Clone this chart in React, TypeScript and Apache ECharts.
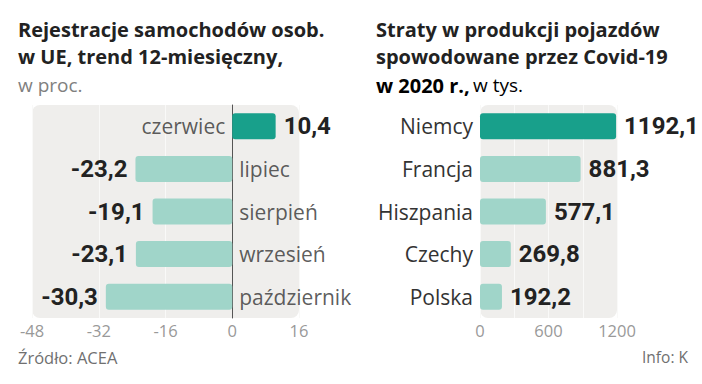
import React, { useEffect, useRef } from "react";
import * as echarts from "echarts";

const monthCats = ["czerwiec", "lipiec", "sierpień", "wrzesień", "październik"];
const monthValues = [10.4, -23.2, -19.1, -23.1, -30.3];
const countryCats = ["Niemcy", "Francja", "Hiszpania", "Czechy", "Polska"];
const countryValues = [1192.1, 881.3, 577.1, 269.8, 192.2];

const leftMin = -48;
const leftMax = 16;
const leftInterval = 16;
const rightMin = 0;
const rightMax = 1200;
const rightInterval = 300;
const rightLabelStep = 600;

const DARK = "#18a08b";
const LIGHT = "#a0d5c9";
const BG = "#efeeec";
const GRIDLINE = "#f9f9f8";
const TEXT_FONT = "'Open Sans', 'DejaVu Sans', sans-serif";
const NUM_FONT = "Roboto, 'DejaVu Sans', sans-serif";

const LG = { left: 32, top: 105, width: 267, height: 213 };
const RG = { left: 480, top: 105, width: 137, height: 213 };

const fmt = (v: number) => v.toFixed(1).replace(".", ",");

export default function App() {
  const ref = useRef<HTMLDivElement>(null);
  useEffect(() => {
    document.body.style.margin = "0";
    const chart = echarts.init(ref.current!, undefined, { renderer: "svg" });
    const valueLabel = {
      show: true,
      fontFamily: NUM_FONT,
      fontSize: 24,
      fontWeight: "bold" as const,
      color: "#222",
      distance: 8,
      formatter: (p: any) => fmt(p.value),
    };
    const tickLabel = {
      color: "#999",
      fontSize: 16.5,
      margin: 4,
      fontFamily: TEXT_FONT,
    };
    chart.setOption({
      animation: false,
      backgroundColor: "#ffffff",
      textStyle: { fontFamily: TEXT_FONT },
      grid: [
        { ...LG, containLabel: false },
        { ...RG, containLabel: false },
      ],
      xAxis: [
        {
          gridIndex: 0,
          type: "value",
          min: leftMin,
          max: leftMax,
          interval: leftInterval,
          axisLine: { show: false },
          axisTick: { show: false },
          splitLine: { show: true, lineStyle: { color: GRIDLINE, width: 1 } },
          axisLabel: tickLabel,
        },
        {
          gridIndex: 1,
          type: "value",
          min: rightMin,
          max: rightMax,
          interval: rightInterval,
          axisLine: { show: false },
          axisTick: { show: false },
          splitLine: { show: true, lineStyle: { color: GRIDLINE, width: 1 } },
          axisLabel: {
            ...tickLabel,
            formatter: (v: number) => (v % rightLabelStep === 0 ? String(v) : ""),
          },
        },
      ],
      yAxis: [
        {
          gridIndex: 0,
          type: "category",
          data: monthCats,
          inverse: true,
          axisLine: { show: true, onZero: true, lineStyle: { color: "#555", width: 1 } },
          axisTick: { show: false },
          axisLabel: { show: false },
          splitLine: { show: false },
        },
        {
          gridIndex: 1,
          type: "category",
          data: countryCats,
          inverse: true,
          axisLine: { show: false },
          axisTick: { show: false },
          axisLabel: { color: "#333", fontSize: 21, margin: 7, fontFamily: TEXT_FONT },
          splitLine: { show: false },
        },
      ],
      graphic: [
        {
          type: "rect",
          z: -10,
          silent: true,
          shape: { x: LG.left, y: LG.top, width: LG.width, height: LG.height, r: 8 },
          style: { fill: BG },
        },
        {
          type: "rect",
          z: -10,
          silent: true,
          shape: { x: RG.left, y: RG.top, width: RG.width, height: RG.height, r: 8 },
          style: { fill: BG },
        },
        {
          type: "text",
          x: 18,
          y: 29,
          style: {
            text: "Rejestracje samochodów osob.",
            font: `bold 20px ${TEXT_FONT}`,
            fill: "#222",
            textVerticalAlign: "middle",
          },
        },
        {
          type: "text",
          x: 18,
          y: 56,
          style: {
            text: "w UE, trend 12-miesięczny,",
            font: `bold 20px ${TEXT_FONT}`,
            fill: "#222",
            textVerticalAlign: "middle",
          },
        },
        {
          type: "text",
          x: 18,
          y: 85,
          style: {
            text: "w proc.",
            font: `19px ${TEXT_FONT}`,
            fill: "#808080",
            textVerticalAlign: "middle",
          },
        },
        {
          type: "text",
          x: 376,
          y: 29,
          style: {
            text: "Straty w produkcji pojazdów",
            font: `bold 20px ${TEXT_FONT}`,
            fill: "#222",
            textVerticalAlign: "middle",
          },
        },
        {
          type: "text",
          x: 376,
          y: 56,
          style: {
            text: "spowodowane przez Covid-19",
            font: `bold 20px ${TEXT_FONT}`,
            fill: "#222",
            textVerticalAlign: "middle",
          },
        },
        {
          type: "text",
          x: 376,
          y: 85,
          style: {
            text: "{b|w 2020 r.,} {n|w tys.}",
            textVerticalAlign: "middle",
            rich: {
              b: { fontFamily: TEXT_FONT, fontSize: 20, fontWeight: "bold", color: "#222" },
              n: { fontFamily: TEXT_FONT, fontSize: 19, color: "#808080" },
            },
          },
        },
        {
          type: "text",
          x: 18,
          y: 357,
          style: {
            text: "Źródło: ACEA",
            font: `16.5px ${TEXT_FONT}`,
            fill: "#707070",
            textVerticalAlign: "middle",
          },
        },
        {
          type: "text",
          x: 688,
          y: 357,
          style: {
            text: "Info: K",
            font: `15.5px ${TEXT_FONT}`,
            fill: "#707070",
            textAlign: "right",
            textVerticalAlign: "middle",
          },
        },
      ],
      series: [
        {
          type: "bar",
          xAxisIndex: 0,
          yAxisIndex: 0,
          barWidth: 26,
          data: monthValues.map((v, i) => ({
            value: v,
            itemStyle: { color: i === 0 ? DARK : LIGHT, borderRadius: 3 },
            label: { position: v >= 0 ? "right" : "left" },
          })),
          label: valueLabel,
          z: 3,
        },
        {
          type: "scatter",
          xAxisIndex: 0,
          yAxisIndex: 0,
          symbolSize: 0,
          silent: true,
          data: monthCats.map((c, i) => ({
            value: [0, i],
            label: { position: monthValues[i] >= 0 ? "left" : "right" },
          })),
          label: {
            show: true,
            fontFamily: TEXT_FONT,
            fontSize: 21,
            color: "#333",
            distance: 7,
            formatter: (p: any) => monthCats[p.dataIndex],
          },
          z: 4,
        },
        {
          type: "bar",
          xAxisIndex: 1,
          yAxisIndex: 1,
          barWidth: 26,
          data: countryValues.map((v, i) => ({
            value: v,
            itemStyle: { color: i === 0 ? DARK : LIGHT, borderRadius: 3 },
          })),
          label: { ...valueLabel, position: "right" },
          z: 3,
        },
      ],
    });
    return () => chart.dispose();
  }, []);
  return <div ref={ref} style={{ width: 702, height: 384 }} />;
}
